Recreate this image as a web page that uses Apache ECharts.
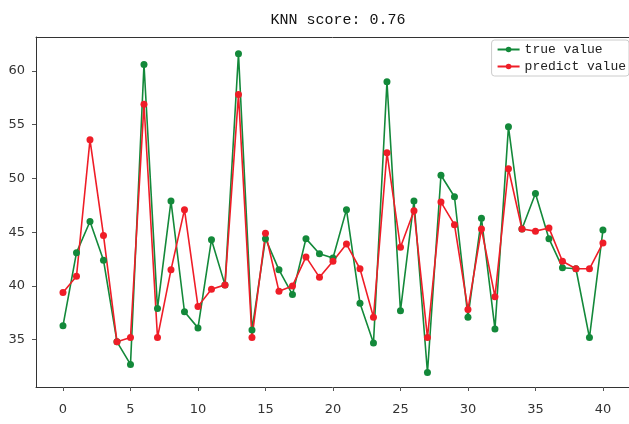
<!DOCTYPE html>
<html>
<head>
<meta charset="utf-8">
<script src="https://cdn.jsdelivr.net/npm/echarts@6/dist/echarts.min.js"></script>
<style>html,body{margin:0;padding:0;background:#fff;}#c{width:629px;height:424px;}</style>
</head>
<body>
<div id="c"></div>
<script>
const titleText = 'KNN score: 0.76';
const seriesNames = ['true value', 'predict value'];
const xIndex = [0,1,2,3,4,5,6,7,8,9,10,11,12,13,14,15,16,17,18,19,20,21,22,23,24,25,26,27,28,29,30,31,32,33,34,35,36,37,38,39,40];
const trueValues = [36.3,43.1,46.0,42.4,34.8,32.7,60.6,37.9,47.9,37.6,36.1,44.3,40.1,61.6,35.9,44.4,41.5,39.2,44.4,43.0,42.6,47.1,38.4,34.7,59.0,37.7,47.9,31.95,50.3,48.3,37.1,46.3,36.0,54.8,45.3,48.6,44.4,41.7,41.6,35.2,45.2];
const predValues = [39.4,40.9,53.6,44.7,34.8,35.2,56.9,35.2,41.5,47.1,38.1,39.7,40.1,57.8,35.2,44.9,39.5,40.0,42.7,40.8,42.3,43.9,41.6,37.1,52.4,43.6,47.0,35.2,47.8,45.7,37.8,45.3,39.0,50.9,45.3,45.1,45.4,42.3,41.6,41.6,44.0];

const chart = echarts.init(document.getElementById('c'));
const axisFont = {fontFamily: 'DejaVu Sans', fontSize: 13, color: '#333'};
const mkData = arr => xIndex.map((x, i) => [x, arr[i]]);
const xMin = -2, xMax = 41.93;
chart.setOption({
  animation: false,
  backgroundColor: '#fff',
  title: {
    text: titleText, left: 333, top: 8, textAlign: 'center',
    textStyle: {fontFamily: 'Liberation Mono', fontSize: 15, fontWeight: 'normal', color: '#111'}
  },
  legend: {
    orient: 'vertical', right: 0, top: 40,
    borderColor: '#ccc', borderWidth: 1, borderRadius: 3,
    padding: [3, 3, 3, 5], itemWidth: 22, itemHeight: 7, itemGap: 4,
    textStyle: {fontFamily: 'Liberation Mono', fontSize: 13, color: '#222'},
    data: seriesNames
  },
  grid: {left: 36, right: 0, top: 37, bottom: 37, show: false, containLabel: false},
  xAxis: [{
    type: 'value', min: xMin, max: xMax, minInterval: 5, maxInterval: 5,
    splitLine: {show: false},
    axisLine: {show: true, onZero: false, lineStyle: {color: '#333'}},
    axisTick: {show: true, length: 4, lineStyle: {color: '#555'}},
    axisLabel: Object.assign({margin: 16, showMinLabel: false, showMaxLabel: false}, axisFont)
  }, {
    type: 'value', position: 'top', min: xMin, max: xMax,
    splitLine: {show: false},
    axisLine: {show: true, onZero: false, lineStyle: {color: '#333'}},
    axisTick: {show: false}, axisLabel: {show: false}
  }],
  yAxis: {
    type: 'value', min: 30.6, max: 63.16, minInterval: 5, maxInterval: 5,
    splitLine: {show: false},
    axisLine: {show: true, onZero: false, lineStyle: {color: '#333'}},
    axisTick: {show: true, length: 4, lineStyle: {color: '#555'}},
    axisLabel: Object.assign({margin: 11, showMinLabel: false, showMaxLabel: false}, axisFont)
  },
  series: [
    {
      name: seriesNames[0], type: 'line', data: mkData(trueValues),
      symbol: 'circle', symbolSize: 7,
      itemStyle: {color: '#13893a'}, lineStyle: {color: '#13893a', width: 1.6}
    },
    {
      name: seriesNames[1], type: 'line', data: mkData(predValues),
      symbol: 'circle', symbolSize: 7,
      itemStyle: {color: '#ef1d27'}, lineStyle: {color: '#ef1d27', width: 1.6}
    }
  ]
});
</script>
</body>
</html>
